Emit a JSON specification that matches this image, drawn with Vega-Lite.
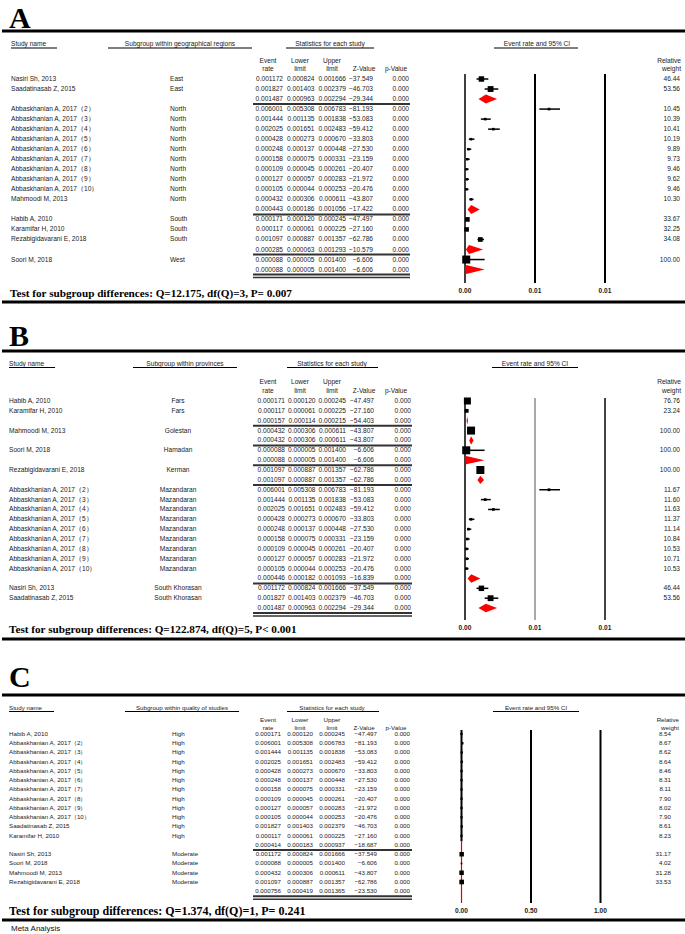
{
"$schema":"https://vega.github.io/schema/vega-lite/v6.json",
"padding":0,
"spacing":0,
"bounds":"flush",
"config":{"view":{"stroke":null},"text":{"font":"Liberation Sans","fontSize":6.6,"color":"#1a1a1a","baseline":"middle"},"rule":{"color":"#000"}},
"datasets":{
"A":[
{"row":0,"study":"Nasiri Sh, 2013","sub":"East","er":0.001172,"ll":0.000824,"ul":0.001666,"z":-37.549,"p":0,"w":46.44,"sum":false},
{"row":1,"study":"Saadatinasab Z, 2015","sub":"East","er":0.001827,"ll":0.001403,"ul":0.002379,"z":-46.703,"p":0,"w":53.56,"sum":false},
{"row":2,"er":0.001487,"ll":0.000963,"ul":0.002294,"z":-29.344,"p":0,"sum":true},
{"row":3,"study":"Abbaskhanian A, 2017（2）","sub":"North","er":0.006001,"ll":0.005308,"ul":0.006783,"z":-81.193,"p":0,"w":10.45,"sum":false},
{"row":4,"study":"Abbaskhanian A, 2017（3）","sub":"North","er":0.001444,"ll":0.001135,"ul":0.001838,"z":-53.083,"p":0,"w":10.39,"sum":false},
{"row":5,"study":"Abbaskhanian A, 2017（4）","sub":"North","er":0.002025,"ll":0.001651,"ul":0.002483,"z":-59.412,"p":0,"w":10.41,"sum":false},
{"row":6,"study":"Abbaskhanian A, 2017（5）","sub":"North","er":0.000428,"ll":0.000273,"ul":0.000670,"z":-33.803,"p":0,"w":10.19,"sum":false},
{"row":7,"study":"Abbaskhanian A, 2017（6）","sub":"North","er":0.000248,"ll":0.000137,"ul":0.000448,"z":-27.530,"p":0,"w":9.89,"sum":false},
{"row":8,"study":"Abbaskhanian A, 2017（7）","sub":"North","er":0.000158,"ll":0.000075,"ul":0.000331,"z":-23.159,"p":0,"w":9.73,"sum":false},
{"row":9,"study":"Abbaskhanian A, 2017（8）","sub":"North","er":0.000109,"ll":0.000045,"ul":0.000261,"z":-20.407,"p":0,"w":9.46,"sum":false},
{"row":10,"study":"Abbaskhanian A, 2017（9）","sub":"North","er":0.000127,"ll":0.000057,"ul":0.000283,"z":-21.972,"p":0,"w":9.62,"sum":false},
{"row":11,"study":"Abbaskhanian A, 2017（10）","sub":"North","er":0.000105,"ll":0.000044,"ul":0.000253,"z":-20.476,"p":0,"w":9.46,"sum":false},
{"row":12,"study":"Mahmoodi M, 2013","sub":"North","er":0.000432,"ll":0.000306,"ul":0.000611,"z":-43.807,"p":0,"w":10.30,"sum":false},
{"row":13,"er":0.000443,"ll":0.000186,"ul":0.001056,"z":-17.422,"p":0,"sum":true},
{"row":14,"study":"Habib A, 2010","sub":"South","er":0.000171,"ll":0.000120,"ul":0.000245,"z":-47.497,"p":0,"w":33.67,"sum":false},
{"row":15,"study":"Karamifar H, 2010","sub":"South","er":0.000117,"ll":0.000061,"ul":0.000225,"z":-27.160,"p":0,"w":32.25,"sum":false},
{"row":16,"study":"Rezabigidavarani E, 2018","sub":"South","er":0.001097,"ll":0.000887,"ul":0.001357,"z":-62.786,"p":0,"w":34.08,"sum":false},
{"row":17,"er":0.000285,"ll":0.000063,"ul":0.001293,"z":-10.579,"p":0,"sum":true},
{"row":18,"study":"Soori M, 2018","sub":"West","er":0.000088,"ll":0.000005,"ul":0.001400,"z":-6.606,"p":0,"w":100.00,"sum":false},
{"row":19,"er":0.000088,"ll":0.000005,"ul":0.001400,"z":-6.606,"p":0,"sum":true}
],
"B":[
{"row":0,"study":"Habib A, 2010","sub":"Fars","er":0.000171,"ll":0.000120,"ul":0.000245,"z":-47.497,"p":0,"w":76.76,"sum":false},
{"row":1,"study":"Karamifar H, 2010","sub":"Fars","er":0.000117,"ll":0.000061,"ul":0.000225,"z":-27.160,"p":0,"w":23.24,"sum":false},
{"row":2,"er":0.000157,"ll":0.000114,"ul":0.000215,"z":-54.403,"p":0,"sum":true},
{"row":3,"study":"Mahmoodi M, 2013","sub":"Golestan","er":0.000432,"ll":0.000306,"ul":0.000611,"z":-43.807,"p":0,"w":100.00,"sum":false},
{"row":4,"er":0.000432,"ll":0.000306,"ul":0.000611,"z":-43.807,"p":0,"sum":true},
{"row":5,"study":"Soori M, 2018","sub":"Hamadan","er":0.000088,"ll":0.000005,"ul":0.001400,"z":-6.606,"p":0,"w":100.00,"sum":false},
{"row":6,"er":0.000088,"ll":0.000005,"ul":0.001400,"z":-6.606,"p":0,"sum":true},
{"row":7,"study":"Rezabigidavarani E, 2018","sub":"Kerman","er":0.001097,"ll":0.000887,"ul":0.001357,"z":-62.786,"p":0,"w":100.00,"sum":false},
{"row":8,"er":0.001097,"ll":0.000887,"ul":0.001357,"z":-62.786,"p":0,"sum":true},
{"row":9,"study":"Abbaskhanian A, 2017（2）","sub":"Mazandaran","er":0.006001,"ll":0.005308,"ul":0.006783,"z":-81.193,"p":0,"w":11.67,"sum":false},
{"row":10,"study":"Abbaskhanian A, 2017（3）","sub":"Mazandaran","er":0.001444,"ll":0.001135,"ul":0.001838,"z":-53.083,"p":0,"w":11.60,"sum":false},
{"row":11,"study":"Abbaskhanian A, 2017（4）","sub":"Mazandaran","er":0.002025,"ll":0.001651,"ul":0.002483,"z":-59.412,"p":0,"w":11.63,"sum":false},
{"row":12,"study":"Abbaskhanian A, 2017（5）","sub":"Mazandaran","er":0.000428,"ll":0.000273,"ul":0.000670,"z":-33.803,"p":0,"w":11.37,"sum":false},
{"row":13,"study":"Abbaskhanian A, 2017（6）","sub":"Mazandaran","er":0.000248,"ll":0.000137,"ul":0.000448,"z":-27.530,"p":0,"w":11.14,"sum":false},
{"row":14,"study":"Abbaskhanian A, 2017（7）","sub":"Mazandaran","er":0.000158,"ll":0.000075,"ul":0.000331,"z":-23.159,"p":0,"w":10.84,"sum":false},
{"row":15,"study":"Abbaskhanian A, 2017（8）","sub":"Mazandaran","er":0.000109,"ll":0.000045,"ul":0.000261,"z":-20.407,"p":0,"w":10.53,"sum":false},
{"row":16,"study":"Abbaskhanian A, 2017（9）","sub":"Mazandaran","er":0.000127,"ll":0.000057,"ul":0.000283,"z":-21.972,"p":0,"w":10.71,"sum":false},
{"row":17,"study":"Abbaskhanian A, 2017（10）","sub":"Mazandaran","er":0.000105,"ll":0.000044,"ul":0.000253,"z":-20.476,"p":0,"w":10.53,"sum":false},
{"row":18,"er":0.000446,"ll":0.000182,"ul":0.001093,"z":-16.839,"p":0,"sum":true},
{"row":19,"study":"Nasiri Sh, 2013","sub":"South Khorasan","er":0.001172,"ll":0.000824,"ul":0.001666,"z":-37.549,"p":0,"w":46.44,"sum":false},
{"row":20,"study":"Saadatinasab Z, 2015","sub":"South Khorasan","er":0.001827,"ll":0.001403,"ul":0.002379,"z":-46.703,"p":0,"w":53.56,"sum":false},
{"row":21,"er":0.001487,"ll":0.000963,"ul":0.002294,"z":-29.344,"p":0,"sum":true}
],
"C":[
{"row":0,"study":"Habib A, 2010","sub":"High","er":0.000171,"ll":0.000120,"ul":0.000245,"z":-47.497,"p":0,"w":8.54,"sum":false},
{"row":1,"study":"Abbaskhanian A, 2017（2）","sub":"High","er":0.006001,"ll":0.005308,"ul":0.006783,"z":-81.193,"p":0,"w":8.67,"sum":false},
{"row":2,"study":"Abbaskhanian A, 2017（3）","sub":"High","er":0.001444,"ll":0.001135,"ul":0.001838,"z":-53.083,"p":0,"w":8.62,"sum":false},
{"row":3,"study":"Abbaskhanian A, 2017（4）","sub":"High","er":0.002025,"ll":0.001651,"ul":0.002483,"z":-59.412,"p":0,"w":8.64,"sum":false},
{"row":4,"study":"Abbaskhanian A, 2017（5）","sub":"High","er":0.000428,"ll":0.000273,"ul":0.000670,"z":-33.803,"p":0,"w":8.46,"sum":false},
{"row":5,"study":"Abbaskhanian A, 2017（6）","sub":"High","er":0.000248,"ll":0.000137,"ul":0.000448,"z":-27.530,"p":0,"w":8.31,"sum":false},
{"row":6,"study":"Abbaskhanian A, 2017（7）","sub":"High","er":0.000158,"ll":0.000075,"ul":0.000331,"z":-23.159,"p":0,"w":8.11,"sum":false},
{"row":7,"study":"Abbaskhanian A, 2017（8）","sub":"High","er":0.000109,"ll":0.000045,"ul":0.000261,"z":-20.407,"p":0,"w":7.90,"sum":false},
{"row":8,"study":"Abbaskhanian A, 2017（9）","sub":"High","er":0.000127,"ll":0.000057,"ul":0.000283,"z":-21.972,"p":0,"w":8.02,"sum":false},
{"row":9,"study":"Abbaskhanian A, 2017（10）","sub":"High","er":0.000105,"ll":0.000044,"ul":0.000253,"z":-20.476,"p":0,"w":7.90,"sum":false},
{"row":10,"study":"Saadatinasab Z, 2015","sub":"High","er":0.001827,"ll":0.001403,"ul":0.002379,"z":-46.703,"p":0,"w":8.61,"sum":false},
{"row":11,"study":"Karamifar H, 2010","sub":"High","er":0.000117,"ll":0.000061,"ul":0.000225,"z":-27.160,"p":0,"w":8.23,"sum":false},
{"row":12,"er":0.000414,"ll":0.000183,"ul":0.000937,"z":-18.687,"p":0,"sum":true},
{"row":13,"study":"Nasiri Sh, 2013","sub":"Moderate","er":0.001172,"ll":0.000824,"ul":0.001666,"z":-37.549,"p":0,"w":31.17,"sum":false},
{"row":14,"study":"Soori M, 2018","sub":"Moderate","er":0.000088,"ll":0.000005,"ul":0.001400,"z":-6.606,"p":0,"w":4.02,"sum":false},
{"row":15,"study":"Mahmoodi M, 2013","sub":"Moderate","er":0.000432,"ll":0.000306,"ul":0.000611,"z":-43.807,"p":0,"w":31.28,"sum":false},
{"row":16,"study":"Rezabigidavarani E, 2018","sub":"Moderate","er":0.001097,"ll":0.000887,"ul":0.001357,"z":-62.786,"p":0,"w":33.53,"sum":false},
{"row":17,"er":0.000756,"ll":0.000419,"ul":0.001365,"z":-23.530,"p":0,"sum":true}
],
"hdr":[{"c":"er","t":["Event","rate"]},{"c":"ll","t":["Lower","limit"]},{"c":"ul","t":["Upper","limit"]},{"c":"z","t":["","Z-Value"]},{"c":"p","t":["","p-Value"]}],
"refAB":[{"v":0},{"v":0.005},{"v":0.01}],
"refC":[{"v":0},{"v":0.5},{"v":1}]
},
"vconcat":[
{
"width":685,"height":305,
"data":{"name":"A"},
"resolve":{"scale":{"x":"independent"}},
"layer":[
{"data":{"values":[{"t":"A"}]},"mark":{"type":"text","font":"Liberation Serif","fontWeight":"bold","fontSize":30,"align":"left","baseline":"alphabetic","color":"#000"},"encoding":{"x":{"datum":7,"type":"quantitative","scale":{"domain":[0,685]},"axis":null},"y":{"datum":-5.08,"type":"quantitative","scale":{"domain":[-7.876,22.532],"reverse":true,"nice":false,"zero":false},"axis":null},"text":{"field":"t"}}},
{"data":{"values":[{}]},"mark":{"type":"rule","strokeWidth":3},"encoding":{"y":{"datum":-4.785,"type":"quantitative","scale":{"domain":[-7.876,22.532],"reverse":true,"nice":false,"zero":false},"axis":null}}},
{"data":{"values":[{"t":"Study name"}]},"mark":{"type":"text","align":"left"},"encoding":{"x":{"datum":9,"type":"quantitative","scale":{"domain":[0,685]},"axis":null},"y":{"datum":-3.49,"type":"quantitative","scale":{"domain":[-7.876,22.532],"reverse":true,"nice":false,"zero":false},"axis":null},"text":{"field":"t"}}},
{"data":{"values":[{"t":"Subgroup within geographical regions"}]},"mark":{"type":"text","align":"center"},"encoding":{"x":{"datum":178,"type":"quantitative","scale":{"domain":[0,685]},"axis":null},"y":{"datum":-3.49,"type":"quantitative","scale":{"domain":[-7.876,22.532],"reverse":true,"nice":false,"zero":false},"axis":null},"text":{"field":"t"}}},
{"data":{"values":[{"t":"Statistics for each study"}]},"mark":{"type":"text","align":"center"},"encoding":{"x":{"datum":328,"type":"quantitative","scale":{"domain":[0,685]},"axis":null},"y":{"datum":-3.49,"type":"quantitative","scale":{"domain":[-7.876,22.532],"reverse":true,"nice":false,"zero":false},"axis":null},"text":{"field":"t"}}},
{"data":{"values":[{"t":"Event rate and 95% CI"}]},"mark":{"type":"text","align":"center"},"encoding":{"x":{"datum":535,"type":"quantitative","scale":{"domain":[0,685]},"axis":null},"y":{"datum":-3.49,"type":"quantitative","scale":{"domain":[-7.876,22.532],"reverse":true,"nice":false,"zero":false},"axis":null},"text":{"field":"t"}}},
{"data":{"values":[{}]},"mark":{"type":"rule","strokeWidth":1.2},"encoding":{"x":{"datum":9,"type":"quantitative","scale":{"domain":[0,685]},"axis":null},"x2":{"datum":55},"y":{"datum":-3.09,"type":"quantitative","scale":{"domain":[-7.876,22.532],"reverse":true,"nice":false,"zero":false},"axis":null}}},
{"data":{"values":[{}]},"mark":{"type":"rule","strokeWidth":1.2},"encoding":{"x":{"datum":106,"type":"quantitative","scale":{"domain":[0,685]},"axis":null},"x2":{"datum":250},"y":{"datum":-3.09,"type":"quantitative","scale":{"domain":[-7.876,22.532],"reverse":true,"nice":false,"zero":false},"axis":null}}},
{"data":{"values":[{}]},"mark":{"type":"rule","strokeWidth":1.2},"encoding":{"x":{"datum":284,"type":"quantitative","scale":{"domain":[0,685]},"axis":null},"x2":{"datum":372},"y":{"datum":-3.09,"type":"quantitative","scale":{"domain":[-7.876,22.532],"reverse":true,"nice":false,"zero":false},"axis":null}}},
{"data":{"values":[{}]},"mark":{"type":"rule","strokeWidth":1.2},"encoding":{"x":{"datum":492,"type":"quantitative","scale":{"domain":[0,685]},"axis":null},"x2":{"datum":576},"y":{"datum":-3.09,"type":"quantitative","scale":{"domain":[-7.876,22.532],"reverse":true,"nice":false,"zero":false},"axis":null}}},
{"data":{"name":"hdr"},"mark":{"type":"text","align":"center","lineHeight":8.5},"encoding":{"x":{"field":"c","type":"nominal","scale":{"type":"point","domain":["er","ll","ul","z","p"],"range":[266,394],"padding":0},"axis":null},"y":{"datum":-1.795,"type":"quantitative","scale":{"domain":[-7.876,22.532],"reverse":true,"nice":false,"zero":false},"axis":null},"text":{"field":"t"}}},
{"data":{"values":[{"t":["Relative","weight"]}]},"mark":{"type":"text","align":"right","lineHeight":8.5},"encoding":{"x":{"datum":679,"type":"quantitative","scale":{"domain":[0,685]},"axis":null},"y":{"datum":-1.795,"type":"quantitative","scale":{"domain":[-7.876,22.532],"reverse":true,"nice":false,"zero":false},"axis":null},"text":{"field":"t"}}},
{"transform":[{"filter":"!datum.sum"}],"mark":{"type":"text","align":"left"},"encoding":{"x":{"datum":9,"type":"quantitative","scale":{"domain":[0,685]},"axis":null},"y":{"field":"row","type":"quantitative","scale":{"domain":[-7.876,22.532],"reverse":true,"nice":false,"zero":false},"axis":null},"text":{"field":"study"}}},
{"transform":[{"filter":"!datum.sum"}],"mark":{"type":"text","align":"left"},"encoding":{"x":{"datum":168,"type":"quantitative","scale":{"domain":[0,685]},"axis":null},"y":{"field":"row","type":"quantitative","scale":{"domain":[-7.876,22.532],"reverse":true,"nice":false,"zero":false},"axis":null},"text":{"field":"sub"}}},
{"transform":[{"fold":["er","ll","ul"],"as":["k","v"]}],"mark":{"type":"text","align":"right"},"encoding":{"x":{"field":"k","type":"nominal","scale":{"type":"point","domain":["er","ll","ul"],"range":[281,344],"padding":0},"axis":null},"y":{"field":"row","type":"quantitative","scale":{"domain":[-7.876,22.532],"reverse":true,"nice":false,"zero":false},"axis":null},"text":{"field":"v","type":"quantitative","format":".6f"}}},
{"transform":[{"fold":["z","p"],"as":["k","v"]}],"mark":{"type":"text","align":"right"},"encoding":{"x":{"field":"k","type":"nominal","scale":{"type":"point","domain":["z","p"],"range":[371,407],"padding":0},"axis":null},"y":{"field":"row","type":"quantitative","scale":{"domain":[-7.876,22.532],"reverse":true,"nice":false,"zero":false},"axis":null},"text":{"field":"v","type":"quantitative","format":".3f"}}},
{"transform":[{"filter":"!datum.sum"}],"mark":{"type":"text","align":"right"},"encoding":{"x":{"datum":678,"type":"quantitative","scale":{"domain":[0,685]},"axis":null},"y":{"field":"row","type":"quantitative","scale":{"domain":[-7.876,22.532],"reverse":true,"nice":false,"zero":false},"axis":null},"text":{"field":"w","type":"quantitative","format":".2f"}}},
{"transform":[{"filter":"datum.sum"}],"mark":{"type":"rule","strokeWidth":2,"color":"#333","yOffset":5},"encoding":{"x":{"datum":251,"type":"quantitative","scale":{"domain":[0,685]},"axis":null},"x2":{"datum":408},"y":{"field":"row","type":"quantitative","scale":{"domain":[-7.876,22.532],"reverse":true,"nice":false,"zero":false},"axis":null}}},
{"transform":[{"filter":"datum.row == 19"}],"mark":{"type":"rule","strokeWidth":1.5,"color":"#333","yOffset":8},"encoding":{"x":{"datum":251,"type":"quantitative","scale":{"domain":[0,685]},"axis":null},"x2":{"datum":408},"y":{"field":"row","type":"quantitative","scale":{"domain":[-7.876,22.532],"reverse":true,"nice":false,"zero":false},"axis":null}}},
{"data":{"name":"refAB"},"transform":[{"filter":"datum.v == 0"}],"mark":{"type":"rule","strokeWidth":1.5},"encoding":{"x":{"field":"v","type":"quantitative","scale":{"domain":[0,0.01],"range":[463,603]},"axis":null},"y":{"datum":-0.5,"type":"quantitative","scale":{"domain":[-7.876,22.532],"reverse":true,"nice":false,"zero":false},"axis":null},"y2":{"datum":20.34}}},
{"data":{"name":"refAB"},"transform":[{"filter":"datum.v > 0"}],"mark":{"type":"rule","strokeWidth":2},"encoding":{"x":{"field":"v","type":"quantitative","scale":{"domain":[0,0.01],"range":[463,603]},"axis":null},"y":{"datum":-0.5,"type":"quantitative","scale":{"domain":[-7.876,22.532],"reverse":true,"nice":false,"zero":false},"axis":null},"y2":{"datum":20.34}}},
{"transform":[{"filter":"!datum.sum"}],"mark":{"type":"rule","strokeWidth":1.5},"encoding":{"x":{"field":"ll","type":"quantitative","scale":{"domain":[0,0.01],"range":[463,603]},"axis":null},"x2":{"field":"ul"},"y":{"field":"row","type":"quantitative","scale":{"domain":[-7.876,22.532],"reverse":true,"nice":false,"zero":false},"axis":null}}},
{"transform":[{"filter":"!datum.sum"}],"mark":{"type":"point","shape":"square","filled":true,"color":"#000","opacity":1},"encoding":{"x":{"field":"er","type":"quantitative","scale":{"domain":[0,0.01],"range":[463,603]},"axis":null},"y":{"field":"row","type":"quantitative","scale":{"domain":[-7.876,22.532],"reverse":true,"nice":false,"zero":false},"axis":null},"size":{"field":"w","type":"quantitative","scale":{"domain":[0,100],"range":[0,64]},"legend":null}}},
{"transform":[{"filter":"datum.sum"},{"fold":["ll","er","ul"],"as":["k","v"]}],"mark":{"type":"area","color":"#ff0000","opacity":1,"yOffset":{"expr":"datum.k === 'er' ? -4.5 : 0"},"y2Offset":{"expr":"datum.k === 'er' ? 4.5 : 0"}},"encoding":{"x":{"field":"v","type":"quantitative","scale":{"domain":[0,0.01],"range":[463,603]},"axis":null},"y":{"field":"row","type":"quantitative","scale":{"domain":[-7.876,22.532],"reverse":true,"nice":false,"zero":false},"axis":null},"y2":{"field":"row"},"detail":{"field":"row","type":"nominal"}}},
{"data":{"name":"refAB"},"mark":{"type":"text","align":"center","fontWeight":"bold"},"encoding":{"x":{"field":"v","type":"quantitative","scale":{"domain":[0,0.01],"range":[463,603]},"axis":null},"y":{"datum":21.137,"type":"quantitative","scale":{"domain":[-7.876,22.532],"reverse":true,"nice":false,"zero":false},"axis":null},"text":{"field":"v","type":"quantitative","format":".2f"}}},
{"data":{"values":[{"t":"Test for subgroup differences: Q=12.175, df(Q)=3, P= 0.007"}]},"mark":{"type":"text","align":"left","baseline":"alphabetic","font":"Liberation Serif","fontWeight":"bold","fontSize":11.2,"color":"#000"},"encoding":{"x":{"datum":8,"type":"quantitative","scale":{"domain":[0,685]},"axis":null},"y":{"datum":21.735,"type":"quantitative","scale":{"domain":[-7.876,22.532],"reverse":true,"nice":false,"zero":false},"axis":null},"text":{"field":"t"}}},
{"data":{"values":[{}]},"mark":{"type":"rule","strokeWidth":3},"encoding":{"y":{"datum":22.233,"type":"quantitative","scale":{"domain":[-7.876,22.532],"reverse":true,"nice":false,"zero":false},"axis":null}}}
]
},
{
"width":685,"height":338,
"data":{"name":"B"},
"resolve":{"scale":{"x":"independent"}},
"layer":[
{"data":{"values":[{"t":"B"}]},"mark":{"type":"text","font":"Liberation Serif","fontWeight":"bold","fontSize":30,"align":"left","baseline":"alphabetic","color":"#000"},"encoding":{"x":{"datum":7,"type":"quantitative","scale":{"domain":[0,685]},"axis":null},"y":{"datum":-5.578,"type":"quantitative","scale":{"domain":[-9.736,24.544],"reverse":true,"nice":false,"zero":false},"axis":null},"text":{"field":"t"}}},
{"data":{"values":[{}]},"mark":{"type":"rule","strokeWidth":3},"encoding":{"y":{"datum":-5.071,"type":"quantitative","scale":{"domain":[-9.736,24.544],"reverse":true,"nice":false,"zero":false},"axis":null}}},
{"data":{"values":[{"t":"Study name"}]},"mark":{"type":"text","align":"left"},"encoding":{"x":{"datum":7,"type":"quantitative","scale":{"domain":[0,685]},"axis":null},"y":{"datum":-3.753,"type":"quantitative","scale":{"domain":[-9.736,24.544],"reverse":true,"nice":false,"zero":false},"axis":null},"text":{"field":"t"}}},
{"data":{"values":[{"t":"Subgroup within provinces"}]},"mark":{"type":"text","align":"center"},"encoding":{"x":{"datum":183,"type":"quantitative","scale":{"domain":[0,685]},"axis":null},"y":{"datum":-3.753,"type":"quantitative","scale":{"domain":[-9.736,24.544],"reverse":true,"nice":false,"zero":false},"axis":null},"text":{"field":"t"}}},
{"data":{"values":[{"t":"Statistics for each study"}]},"mark":{"type":"text","align":"center"},"encoding":{"x":{"datum":330,"type":"quantitative","scale":{"domain":[0,685]},"axis":null},"y":{"datum":-3.753,"type":"quantitative","scale":{"domain":[-9.736,24.544],"reverse":true,"nice":false,"zero":false},"axis":null},"text":{"field":"t"}}},
{"data":{"values":[{"t":"Event rate and 95% CI"}]},"mark":{"type":"text","align":"center"},"encoding":{"x":{"datum":533,"type":"quantitative","scale":{"domain":[0,685]},"axis":null},"y":{"datum":-3.753,"type":"quantitative","scale":{"domain":[-9.736,24.544],"reverse":true,"nice":false,"zero":false},"axis":null},"text":{"field":"t"}}},
{"data":{"values":[{}]},"mark":{"type":"rule","strokeWidth":1.2},"encoding":{"x":{"datum":7,"type":"quantitative","scale":{"domain":[0,685]},"axis":null},"x2":{"datum":53},"y":{"datum":-3.398,"type":"quantitative","scale":{"domain":[-9.736,24.544],"reverse":true,"nice":false,"zero":false},"axis":null}}},
{"data":{"values":[{}]},"mark":{"type":"rule","strokeWidth":1.2},"encoding":{"x":{"datum":131,"type":"quantitative","scale":{"domain":[0,685]},"axis":null},"x2":{"datum":235},"y":{"datum":-3.398,"type":"quantitative","scale":{"domain":[-9.736,24.544],"reverse":true,"nice":false,"zero":false},"axis":null}}},
{"data":{"values":[{}]},"mark":{"type":"rule","strokeWidth":1.2},"encoding":{"x":{"datum":285,"type":"quantitative","scale":{"domain":[0,685]},"axis":null},"x2":{"datum":376},"y":{"datum":-3.398,"type":"quantitative","scale":{"domain":[-9.736,24.544],"reverse":true,"nice":false,"zero":false},"axis":null}}},
{"data":{"values":[{}]},"mark":{"type":"rule","strokeWidth":1.2},"encoding":{"x":{"datum":490,"type":"quantitative","scale":{"domain":[0,685]},"axis":null},"x2":{"datum":576},"y":{"datum":-3.398,"type":"quantitative","scale":{"domain":[-9.736,24.544],"reverse":true,"nice":false,"zero":false},"axis":null}}},
{"data":{"name":"hdr"},"mark":{"type":"text","align":"center","lineHeight":8.5},"encoding":{"x":{"field":"c","type":"nominal","scale":{"type":"point","domain":["er","ll","ul","z","p"],"range":[266,394],"padding":0},"axis":null},"y":{"datum":-1.876,"type":"quantitative","scale":{"domain":[-9.736,24.544],"reverse":true,"nice":false,"zero":false},"axis":null},"text":{"field":"t"}}},
{"data":{"values":[{"t":["Relative","weight"]}]},"mark":{"type":"text","align":"right","lineHeight":8.5},"encoding":{"x":{"datum":679,"type":"quantitative","scale":{"domain":[0,685]},"axis":null},"y":{"datum":-1.876,"type":"quantitative","scale":{"domain":[-9.736,24.544],"reverse":true,"nice":false,"zero":false},"axis":null},"text":{"field":"t"}}},
{"transform":[{"filter":"!datum.sum"}],"mark":{"type":"text","align":"left"},"encoding":{"x":{"datum":7,"type":"quantitative","scale":{"domain":[0,685]},"axis":null},"y":{"field":"row","type":"quantitative","scale":{"domain":[-9.736,24.544],"reverse":true,"nice":false,"zero":false},"axis":null},"text":{"field":"study"}}},
{"transform":[{"filter":"!datum.sum"}],"mark":{"type":"text","align":"center"},"encoding":{"x":{"datum":176,"type":"quantitative","scale":{"domain":[0,685]},"axis":null},"y":{"field":"row","type":"quantitative","scale":{"domain":[-9.736,24.544],"reverse":true,"nice":false,"zero":false},"axis":null},"text":{"field":"sub"}}},
{"transform":[{"fold":["er","ll","ul"],"as":["k","v"]}],"mark":{"type":"text","align":"right"},"encoding":{"x":{"field":"k","type":"nominal","scale":{"type":"point","domain":["er","ll","ul"],"range":[283,344],"padding":0},"axis":null},"y":{"field":"row","type":"quantitative","scale":{"domain":[-9.736,24.544],"reverse":true,"nice":false,"zero":false},"axis":null},"text":{"field":"v","type":"quantitative","format":".6f"}}},
{"transform":[{"fold":["z","p"],"as":["k","v"]}],"mark":{"type":"text","align":"right"},"encoding":{"x":{"field":"k","type":"nominal","scale":{"type":"point","domain":["z","p"],"range":[372,409],"padding":0},"axis":null},"y":{"field":"row","type":"quantitative","scale":{"domain":[-9.736,24.544],"reverse":true,"nice":false,"zero":false},"axis":null},"text":{"field":"v","type":"quantitative","format":".3f"}}},
{"transform":[{"filter":"!datum.sum"}],"mark":{"type":"text","align":"right"},"encoding":{"x":{"datum":678,"type":"quantitative","scale":{"domain":[0,685]},"axis":null},"y":{"field":"row","type":"quantitative","scale":{"domain":[-9.736,24.544],"reverse":true,"nice":false,"zero":false},"axis":null},"text":{"field":"w","type":"quantitative","format":".2f"}}},
{"transform":[{"filter":"datum.sum"}],"mark":{"type":"rule","strokeWidth":2,"color":"#333","yOffset":5},"encoding":{"x":{"datum":251,"type":"quantitative","scale":{"domain":[0,685]},"axis":null},"x2":{"datum":410},"y":{"field":"row","type":"quantitative","scale":{"domain":[-9.736,24.544],"reverse":true,"nice":false,"zero":false},"axis":null}}},
{"transform":[{"filter":"datum.row == 21"}],"mark":{"type":"rule","strokeWidth":1.5,"color":"#333","yOffset":8},"encoding":{"x":{"datum":251,"type":"quantitative","scale":{"domain":[0,685]},"axis":null},"x2":{"datum":410},"y":{"field":"row","type":"quantitative","scale":{"domain":[-9.736,24.544],"reverse":true,"nice":false,"zero":false},"axis":null}}},
{"data":{"name":"refAB"},"transform":[{"filter":"datum.v == 0"}],"mark":{"type":"rule","strokeWidth":1.5},"encoding":{"x":{"field":"v","type":"quantitative","scale":{"domain":[0,0.01],"range":[463,603]},"axis":null},"y":{"datum":-0.304,"type":"quantitative","scale":{"domain":[-9.736,24.544],"reverse":true,"nice":false,"zero":false},"axis":null},"y2":{"datum":22.211}}},
{"data":{"name":"refAB"},"transform":[{"filter":"datum.v == 0.005"}],"mark":{"type":"rule","strokeWidth":1,"color":"#555"},"encoding":{"x":{"field":"v","type":"quantitative","scale":{"domain":[0,0.01],"range":[463,603]},"axis":null},"y":{"datum":-0.304,"type":"quantitative","scale":{"domain":[-9.736,24.544],"reverse":true,"nice":false,"zero":false},"axis":null},"y2":{"datum":22.211}}},
{"data":{"name":"refAB"},"transform":[{"filter":"datum.v == 0.01"}],"mark":{"type":"rule","strokeWidth":2,"color":"#444"},"encoding":{"x":{"field":"v","type":"quantitative","scale":{"domain":[0,0.01],"range":[463,603]},"axis":null},"y":{"datum":-0.304,"type":"quantitative","scale":{"domain":[-9.736,24.544],"reverse":true,"nice":false,"zero":false},"axis":null},"y2":{"datum":22.211}}},
{"transform":[{"filter":"!datum.sum"}],"mark":{"type":"rule","strokeWidth":1.5},"encoding":{"x":{"field":"ll","type":"quantitative","scale":{"domain":[0,0.01],"range":[463,603]},"axis":null},"x2":{"field":"ul"},"y":{"field":"row","type":"quantitative","scale":{"domain":[-9.736,24.544],"reverse":true,"nice":false,"zero":false},"axis":null}}},
{"transform":[{"filter":"!datum.sum"}],"mark":{"type":"point","shape":"square","filled":true,"color":"#000","opacity":1},"encoding":{"x":{"field":"er","type":"quantitative","scale":{"domain":[0,0.01],"range":[463,603]},"axis":null},"y":{"field":"row","type":"quantitative","scale":{"domain":[-9.736,24.544],"reverse":true,"nice":false,"zero":false},"axis":null},"size":{"field":"w","type":"quantitative","scale":{"domain":[0,100],"range":[0,81]},"legend":null}}},
{"transform":[{"filter":"datum.sum"},{"fold":["ll","er","ul"],"as":["k","v"]}],"mark":{"type":"area","color":"#ff0000","opacity":1,"yOffset":{"expr":"datum.k === 'er' ? -4.2 : 0"},"y2Offset":{"expr":"datum.k === 'er' ? 4.2 : 0"}},"encoding":{"x":{"field":"v","type":"quantitative","scale":{"domain":[0,0.01],"range":[463,603]},"axis":null},"y":{"field":"row","type":"quantitative","scale":{"domain":[-9.736,24.544],"reverse":true,"nice":false,"zero":false},"axis":null},"y2":{"field":"row"},"detail":{"field":"row","type":"nominal"}}},
{"data":{"name":"refAB"},"mark":{"type":"text","align":"center","fontWeight":"bold"},"encoding":{"x":{"field":"v","type":"quantitative","scale":{"domain":[0,0.01],"range":[463,603]},"axis":null},"y":{"datum":23.022,"type":"quantitative","scale":{"domain":[-9.736,24.544],"reverse":true,"nice":false,"zero":false},"axis":null},"text":{"field":"v","type":"quantitative","format":".2f"}}},
{"data":{"values":[{"t":"Test for subgroup differences: Q=122.874, df(Q)=5, P< 0.001"}]},"mark":{"type":"text","align":"left","baseline":"alphabetic","font":"Liberation Serif","fontWeight":"bold","fontSize":11.2,"color":"#000"},"encoding":{"x":{"datum":7,"type":"quantitative","scale":{"domain":[0,685]},"axis":null},"y":{"datum":23.529,"type":"quantitative","scale":{"domain":[-9.736,24.544],"reverse":true,"nice":false,"zero":false},"axis":null},"text":{"field":"t"}}},
{"data":{"values":[{}]},"mark":{"type":"rule","strokeWidth":3},"encoding":{"y":{"datum":24.138,"type":"quantitative","scale":{"domain":[-9.736,24.544],"reverse":true,"nice":false,"zero":false},"axis":null}}}
]
},
{
"width":685,"height":291,
"data":{"name":"C"},
"resolve":{"scale":{"x":"independent"}},
"layer":[
{"data":{"values":[{"t":"C"}]},"mark":{"type":"text","font":"Liberation Serif","fontWeight":"bold","fontSize":30,"align":"left","baseline":"alphabetic","color":"#000"},"encoding":{"x":{"datum":7,"type":"quantitative","scale":{"domain":[0,685]},"axis":null},"y":{"datum":-5.081,"type":"quantitative","scale":{"domain":[-9.838,21.622],"reverse":true,"nice":false,"zero":false},"axis":null},"text":{"field":"t"}}},
{"data":{"values":[{}]},"mark":{"type":"rule","strokeWidth":3},"encoding":{"y":{"datum":-4.216,"type":"quantitative","scale":{"domain":[-9.838,21.622],"reverse":true,"nice":false,"zero":false},"axis":null}}},
{"data":{"values":[{"t":"Study name"}]},"mark":{"type":"text","align":"left","fontSize":6.2},"encoding":{"x":{"datum":7,"type":"quantitative","scale":{"domain":[0,685]},"axis":null},"y":{"datum":-2.811,"type":"quantitative","scale":{"domain":[-9.838,21.622],"reverse":true,"nice":false,"zero":false},"axis":null},"text":{"field":"t"}}},
{"data":{"values":[{"t":"Subgroup within quality of studies"}]},"mark":{"type":"text","align":"center","fontSize":6.2},"encoding":{"x":{"datum":180,"type":"quantitative","scale":{"domain":[0,685]},"axis":null},"y":{"datum":-2.811,"type":"quantitative","scale":{"domain":[-9.838,21.622],"reverse":true,"nice":false,"zero":false},"axis":null},"text":{"field":"t"}}},
{"data":{"values":[{"t":"Statistics for each study"}]},"mark":{"type":"text","align":"center","fontSize":6.2},"encoding":{"x":{"datum":330,"type":"quantitative","scale":{"domain":[0,685]},"axis":null},"y":{"datum":-2.811,"type":"quantitative","scale":{"domain":[-9.838,21.622],"reverse":true,"nice":false,"zero":false},"axis":null},"text":{"field":"t"}}},
{"data":{"values":[{"t":"Event rate and 95% CI"}]},"mark":{"type":"text","align":"center","fontSize":6.2},"encoding":{"x":{"datum":534,"type":"quantitative","scale":{"domain":[0,685]},"axis":null},"y":{"datum":-2.811,"type":"quantitative","scale":{"domain":[-9.838,21.622],"reverse":true,"nice":false,"zero":false},"axis":null},"text":{"field":"t"}}},
{"data":{"values":[{}]},"mark":{"type":"rule","strokeWidth":1.2},"encoding":{"x":{"datum":7,"type":"quantitative","scale":{"domain":[0,685]},"axis":null},"x2":{"datum":52},"y":{"datum":-2.432,"type":"quantitative","scale":{"domain":[-9.838,21.622],"reverse":true,"nice":false,"zero":false},"axis":null}}},
{"data":{"values":[{}]},"mark":{"type":"rule","strokeWidth":1.2},"encoding":{"x":{"datum":123,"type":"quantitative","scale":{"domain":[0,685]},"axis":null},"x2":{"datum":237},"y":{"datum":-2.432,"type":"quantitative","scale":{"domain":[-9.838,21.622],"reverse":true,"nice":false,"zero":false},"axis":null}}},
{"data":{"values":[{}]},"mark":{"type":"rule","strokeWidth":1.2},"encoding":{"x":{"datum":285,"type":"quantitative","scale":{"domain":[0,685]},"axis":null},"x2":{"datum":377},"y":{"datum":-2.432,"type":"quantitative","scale":{"domain":[-9.838,21.622],"reverse":true,"nice":false,"zero":false},"axis":null}}},
{"data":{"values":[{}]},"mark":{"type":"rule","strokeWidth":1.2},"encoding":{"x":{"datum":491,"type":"quantitative","scale":{"domain":[0,685]},"axis":null},"x2":{"datum":577},"y":{"datum":-2.432,"type":"quantitative","scale":{"domain":[-9.838,21.622],"reverse":true,"nice":false,"zero":false},"axis":null}}},
{"data":{"name":"hdr"},"mark":{"type":"text","align":"center","lineHeight":8,"fontSize":6.2},"encoding":{"x":{"field":"c","type":"nominal","scale":{"type":"point","domain":["er","ll","ul","z","p"],"range":[266,394],"padding":0},"axis":null},"y":{"datum":-1.514,"type":"quantitative","scale":{"domain":[-9.838,21.622],"reverse":true,"nice":false,"zero":false},"axis":null},"text":{"field":"t"}}},
{"data":{"values":[{"t":["Relative","weight"]}]},"mark":{"type":"text","align":"right","lineHeight":8,"fontSize":6.2},"encoding":{"x":{"datum":677,"type":"quantitative","scale":{"domain":[0,685]},"axis":null},"y":{"datum":-1.514,"type":"quantitative","scale":{"domain":[-9.838,21.622],"reverse":true,"nice":false,"zero":false},"axis":null},"text":{"field":"t"}}},
{"transform":[{"filter":"!datum.sum"}],"mark":{"type":"text","align":"left","fontSize":6.2},"encoding":{"x":{"datum":7,"type":"quantitative","scale":{"domain":[0,685]},"axis":null},"y":{"field":"row","type":"quantitative","scale":{"domain":[-9.838,21.622],"reverse":true,"nice":false,"zero":false},"axis":null},"text":{"field":"study"}}},
{"transform":[{"filter":"!datum.sum"}],"mark":{"type":"text","align":"left","fontSize":6.2},"encoding":{"x":{"datum":170,"type":"quantitative","scale":{"domain":[0,685]},"axis":null},"y":{"field":"row","type":"quantitative","scale":{"domain":[-9.838,21.622],"reverse":true,"nice":false,"zero":false},"axis":null},"text":{"field":"sub"}}},
{"transform":[{"fold":["er","ll","ul"],"as":["k","v"]}],"mark":{"type":"text","align":"right","fontSize":6.2},"encoding":{"x":{"field":"k","type":"nominal","scale":{"type":"point","domain":["er","ll","ul"],"range":[279,343],"padding":0},"axis":null},"y":{"field":"row","type":"quantitative","scale":{"domain":[-9.838,21.622],"reverse":true,"nice":false,"zero":false},"axis":null},"text":{"field":"v","type":"quantitative","format":".6f"}}},
{"transform":[{"fold":["z","p"],"as":["k","v"]}],"mark":{"type":"text","align":"right","fontSize":6.2},"encoding":{"x":{"field":"k","type":"nominal","scale":{"type":"point","domain":["z","p"],"range":[375,408],"padding":0},"axis":null},"y":{"field":"row","type":"quantitative","scale":{"domain":[-9.838,21.622],"reverse":true,"nice":false,"zero":false},"axis":null},"text":{"field":"v","type":"quantitative","format":".3f"}}},
{"transform":[{"filter":"!datum.sum"}],"mark":{"type":"text","align":"right","fontSize":6.2},"encoding":{"x":{"datum":669,"type":"quantitative","scale":{"domain":[0,685]},"axis":null},"y":{"field":"row","type":"quantitative","scale":{"domain":[-9.838,21.622],"reverse":true,"nice":false,"zero":false},"axis":null},"text":{"field":"w","type":"quantitative","format":".2f"}}},
{"transform":[{"filter":"datum.sum"}],"mark":{"type":"rule","strokeWidth":2,"color":"#333","yOffset":5},"encoding":{"x":{"datum":251,"type":"quantitative","scale":{"domain":[0,685]},"axis":null},"x2":{"datum":410},"y":{"field":"row","type":"quantitative","scale":{"domain":[-9.838,21.622],"reverse":true,"nice":false,"zero":false},"axis":null}}},
{"transform":[{"filter":"datum.row == 17"}],"mark":{"type":"rule","strokeWidth":1.5,"color":"#333","yOffset":8},"encoding":{"x":{"datum":251,"type":"quantitative","scale":{"domain":[0,685]},"axis":null},"x2":{"datum":410},"y":{"field":"row","type":"quantitative","scale":{"domain":[-9.838,21.622],"reverse":true,"nice":false,"zero":false},"axis":null}}},
{"data":{"name":"refC"},"transform":[{"filter":"datum.v == 0"}],"mark":{"type":"rule","strokeWidth":2},"encoding":{"x":{"field":"v","type":"quantitative","scale":{"domain":[0,1],"range":[459.5,598.5]},"axis":null},"y":{"datum":-0.432,"type":"quantitative","scale":{"domain":[-9.838,21.622],"reverse":true,"nice":false,"zero":false},"axis":null},"y2":{"datum":11.6}}},
{"data":{"name":"refC"},"transform":[{"filter":"datum.v == 0"}],"mark":{"type":"rule","strokeWidth":1.2,"color":"#e00000"},"encoding":{"x":{"field":"v","type":"quantitative","scale":{"domain":[0,1],"range":[459.5,598.5]},"axis":null},"y":{"datum":11.6,"type":"quantitative","scale":{"domain":[-9.838,21.622],"reverse":true,"nice":false,"zero":false},"axis":null},"y2":{"datum":18.27}}},
{"data":{"name":"refC"},"transform":[{"filter":"datum.v > 0"}],"mark":{"type":"rule","strokeWidth":2},"encoding":{"x":{"field":"v","type":"quantitative","scale":{"domain":[0,1],"range":[459.5,598.5]},"axis":null},"y":{"datum":-0.432,"type":"quantitative","scale":{"domain":[-9.838,21.622],"reverse":true,"nice":false,"zero":false},"axis":null},"y2":{"datum":18.27}}},
{"transform":[{"filter":"!datum.sum"}],"mark":{"type":"rule","strokeWidth":1.5},"encoding":{"x":{"field":"ll","type":"quantitative","scale":{"domain":[0,1],"range":[459.5,598.5]},"axis":null},"x2":{"field":"ul"},"y":{"field":"row","type":"quantitative","scale":{"domain":[-9.838,21.622],"reverse":true,"nice":false,"zero":false},"axis":null}}},
{"transform":[{"filter":"!datum.sum"}],"mark":{"type":"point","shape":"square","filled":true,"color":"#000","opacity":1},"encoding":{"x":{"field":"er","type":"quantitative","scale":{"domain":[0,1],"range":[459.5,598.5]},"axis":null},"y":{"field":"row","type":"quantitative","scale":{"domain":[-9.838,21.622],"reverse":true,"nice":false,"zero":false},"axis":null},"size":{"field":"w","type":"quantitative","scale":{"domain":[0,100],"range":[0,206]},"legend":null}}},
{"transform":[{"filter":"datum.sum"},{"fold":["ll","er","ul"],"as":["k","v"]}],"mark":{"type":"area","color":"#ff0000","opacity":1,"yOffset":{"expr":"datum.k === 'er' ? -4.2 : 0"},"y2Offset":{"expr":"datum.k === 'er' ? 4.2 : 0"}},"encoding":{"x":{"field":"v","type":"quantitative","scale":{"domain":[0,1],"range":[459.5,598.5]},"axis":null},"y":{"field":"row","type":"quantitative","scale":{"domain":[-9.838,21.622],"reverse":true,"nice":false,"zero":false},"axis":null},"y2":{"field":"row"},"detail":{"field":"row","type":"nominal"}}},
{"data":{"name":"refC"},"mark":{"type":"text","align":"center","fontWeight":"bold"},"encoding":{"x":{"field":"v","type":"quantitative","scale":{"domain":[0,1],"range":[459.5,598.5]},"axis":null},"y":{"datum":19.135,"type":"quantitative","scale":{"domain":[-9.838,21.622],"reverse":true,"nice":false,"zero":false},"axis":null},"text":{"field":"v","type":"quantitative","format":".2f"}}},
{"data":{"values":[{"t":"Test for subgroup differences: Q=1.374, df(Q)=1, P= 0.241"}]},"mark":{"type":"text","align":"left","baseline":"alphabetic","font":"Liberation Serif","fontWeight":"bold","fontSize":12,"color":"#000"},"encoding":{"x":{"datum":7,"type":"quantitative","scale":{"domain":[0,685]},"axis":null},"y":{"datum":19.568,"type":"quantitative","scale":{"domain":[-9.838,21.622],"reverse":true,"nice":false,"zero":false},"axis":null},"text":{"field":"t"}}},
{"data":{"values":[{}]},"mark":{"type":"rule","strokeWidth":3},"encoding":{"y":{"datum":20.108,"type":"quantitative","scale":{"domain":[-9.838,21.622],"reverse":true,"nice":false,"zero":false},"axis":null}}},
{"data":{"values":[{"t":"Meta Analysis"}]},"mark":{"type":"text","align":"left","baseline":"alphabetic","fontSize":8,"color":"#111"},"encoding":{"x":{"datum":9,"type":"quantitative","scale":{"domain":[0,685]},"axis":null},"y":{"datum":21.297,"type":"quantitative","scale":{"domain":[-9.838,21.622],"reverse":true,"nice":false,"zero":false},"axis":null},"text":{"field":"t"}}}
]
}
]
}
